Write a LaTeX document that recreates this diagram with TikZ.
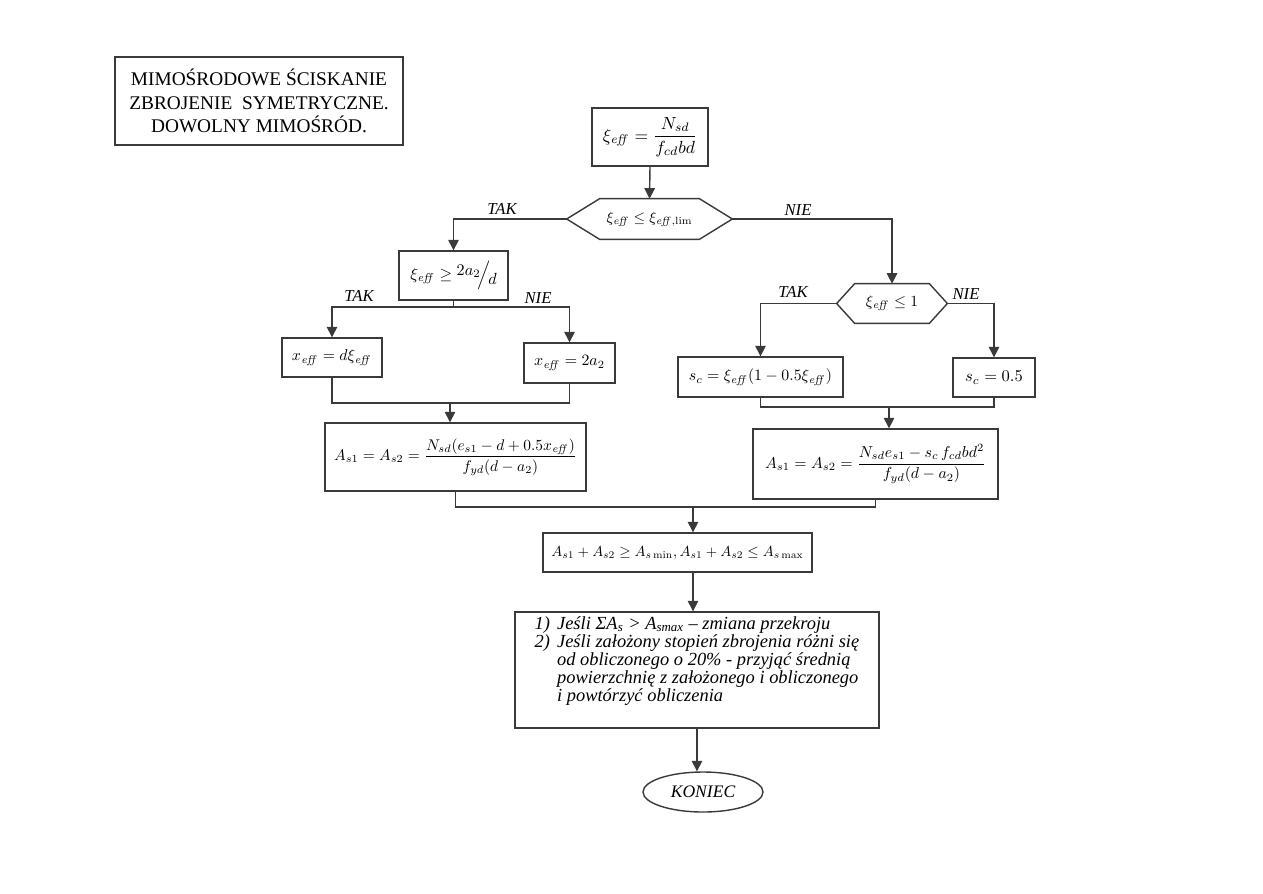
\documentclass[tikz,border=0pt]{standalone}
\usepackage[no-math]{fontspec}
\setmainfont{Liberation Serif}
\usepackage{amsmath}
\usepackage{graphicx}
\usetikzlibrary{arrows.meta,shapes.geometric}
\newlength\pxu \setlength\pxu{0.02cm}
\definecolor{ln}{HTML}{3A3A3A}
\newcommand\hexpath[2]{\draw[hexline] (#1.west) -- ([xshift=#2]#1.north west) -- ([xshift=-#2]#1.north east) -- (#1.east) -- ([xshift=-#2]#1.south east) -- ([xshift=#2]#1.south west) -- cycle;}
\begin{document}
\begin{tikzpicture}[x=0.02cm,y=-0.02cm,
  box/.style={draw=ln, line width=0.8pt, inner sep=0pt, text=black},
  hexnode/.style={inner sep=0pt, text=black},
  hexline/.style={draw=ln, line width=0.8pt},
  con/.style={draw=ln, line width=0.8pt},
  arr/.style={con, -{Triangle[width=6pt,length=6pt]}},
  lbl/.style={inner sep=1pt, anchor=south, font=\fontsize{9.5}{11}\selectfont\itshape}
]
\fill[white] (0,0) rectangle (1263,893);
\useasboundingbox (0,0) rectangle (1263,893);

% title
\node[box, minimum width=288\pxu, minimum height=88\pxu, align=center,
      font=\fontsize{11}{13.4}\selectfont] (title) at (259,101)
  {MIMOŚRODOWE ŚCISKANIE\\ZBROJENIE\ \ SYMETRYCZNE.\\DOWOLNY MIMOŚRÓD.};

% top box
\node[box, minimum width=116\pxu, minimum height=58\pxu] (b1) at (650,137)
  {$\xi_{\mathit{eff}} = \dfrac{N_{sd}}{f_{cd}bd}$};

% first decision
\node[hexnode, minimum width=165\pxu, minimum height=40\pxu] (h1) at (649.5,219)
  {\scalebox{0.85}{$\xi_{\mathit{eff}} \le \xi_{\mathit{eff},\mathrm{lim}}$}};
\hexpath{h1}{33\pxu}

% left branch
\node[box, minimum width=109\pxu, minimum height=49\pxu] (b2) at (453.5,275.5)
  {\scalebox{0.92}{$\xi_{\mathit{eff}} \ge \raisebox{0.6ex}{$2a_2$}\!\Big/\!\raisebox{-0.7ex}{$d$}$}};
\node[box, minimum width=100\pxu, minimum height=39\pxu] (b3) at (332,357.5)
  {\scalebox{0.9}{$x_{\mathit{eff}} = d\xi_{\mathit{eff}}$}};
\node[box, minimum width=91\pxu, minimum height=40\pxu] (b4) at (569.5,363)
  {\scalebox{0.9}{$x_{\mathit{eff}} = 2a_2$}};
\node[box, minimum width=261\pxu, minimum height=68\pxu] (b5) at (455.5,457)
  {\scalebox{0.88}{$A_{s1} = A_{s2} = \dfrac{N_{sd}(e_{s1} - d + 0.5x_{\mathit{eff}})}{f_{yd}(d - a_2)}$}};

% right branch
\node[hexnode, minimum width=110\pxu, minimum height=39\pxu] (h2) at (892,303.5)
  {\scalebox{0.88}{$\xi_{\mathit{eff}} \le 1$}};
\hexpath{h2}{18\pxu}
\node[box, minimum width=165\pxu, minimum height=40\pxu] (b6) at (760.5,377)
  {\scalebox{0.9}{$s_c = \xi_{\mathit{eff}}(1 - 0.5\xi_{\mathit{eff}})$}};
\node[box, minimum width=82\pxu, minimum height=39\pxu] (b7) at (994,377.5)
  {\scalebox{0.94}{$s_c = 0.5$}};
\node[box, minimum width=245\pxu, minimum height=70\pxu] (b8) at (875.5,464)
  {\scalebox{0.9}{$A_{s1} = A_{s2} = \dfrac{N_{sd}e_{s1} - s_c\, f_{cd}bd^2}{f_{yd}(d - a_2)}$}};

% bottom
\node[box, minimum width=269\pxu, minimum height=39\pxu] (b9) at (677.5,552.5)
  {\scalebox{0.83}{$A_{s1} + A_{s2} \ge A_{s\min}, A_{s1} + A_{s2} \le A_{s\max}$}};
\node[box, minimum width=364\pxu, minimum height=116\pxu,
      font=\fontsize{10.5}{9.8}\selectfont\itshape] (b10) at (697,670)
  {\begin{tabular}{@{}l@{\hspace{4pt}}l@{}}
   1) & Jeśli ΣA\textsubscript{s} > A\textsubscript{smax} – zmiana przekroju\\
   2) & Jeśli założony stopień zbrojenia różni się\\
      & od obliczonego o 20\% - przyjąć średnią\\
      & powierzchnię z założonego i obliczonego\\
      & i powtórzyć obliczenia\\[10pt]
   \end{tabular}};
\node[box, ellipse, minimum width=120\pxu, minimum height=40\pxu,
      font=\fontsize{10}{12}\selectfont\itshape] (end) at (703,792) {KONIEC};

% junction coordinates
\coordinate (s2) at (453.5,307);
\coordinate (m1) at (450,403);
\coordinate (m2) at (889,407);
\coordinate (m3) at (693,507);

% connectors
\draw[arr] (b1.south) -- (h1.north);
\draw[arr] (h1.west) -| (b2.north);
\draw[arr] (h1.east) -| (h2.north);
\draw[con] (b2.south) -- (s2);
\draw[arr] (s2) -| (b3.north);
\draw[arr] (s2) -| (b4.north);
\draw[con] (b3.south) |- (m1);
\draw[con] (b4.south) |- (m1);
\draw[arr] (m1) -- (m1 |- b5.north);
\draw[arr] (h2.west) -| (b6.north);
\draw[arr] (h2.east) -| (b7.north);
\draw[con] (b6.south) |- (m2);
\draw[con] (b7.south) |- (m2);
\draw[arr] (m2) -- (m2 |- b8.north);
\draw[con] (b5.south) |- (m3);
\draw[con] (b8.south) |- (m3);
\draw[arr] (m3) -- (m3 |- b9.north);
\draw[arr] (m3 |- b9.south) -- (m3 |- b10.north);
\draw[arr] (b10.south) -- (b10.south |- end.north);

% labels
\node[lbl] (tak1) at (502,217) {TAK};
\node[lbl] (nie1) at (798,218) {NIE};
\node[lbl] (tak2) at (359,304) {TAK};
\node[lbl] (nie2) at (538,306) {NIE};
\node[lbl] (tak3) at (793,300) {TAK};
\node[lbl] (nie3) at (966,302) {NIE};
\end{tikzpicture}
\end{document}
